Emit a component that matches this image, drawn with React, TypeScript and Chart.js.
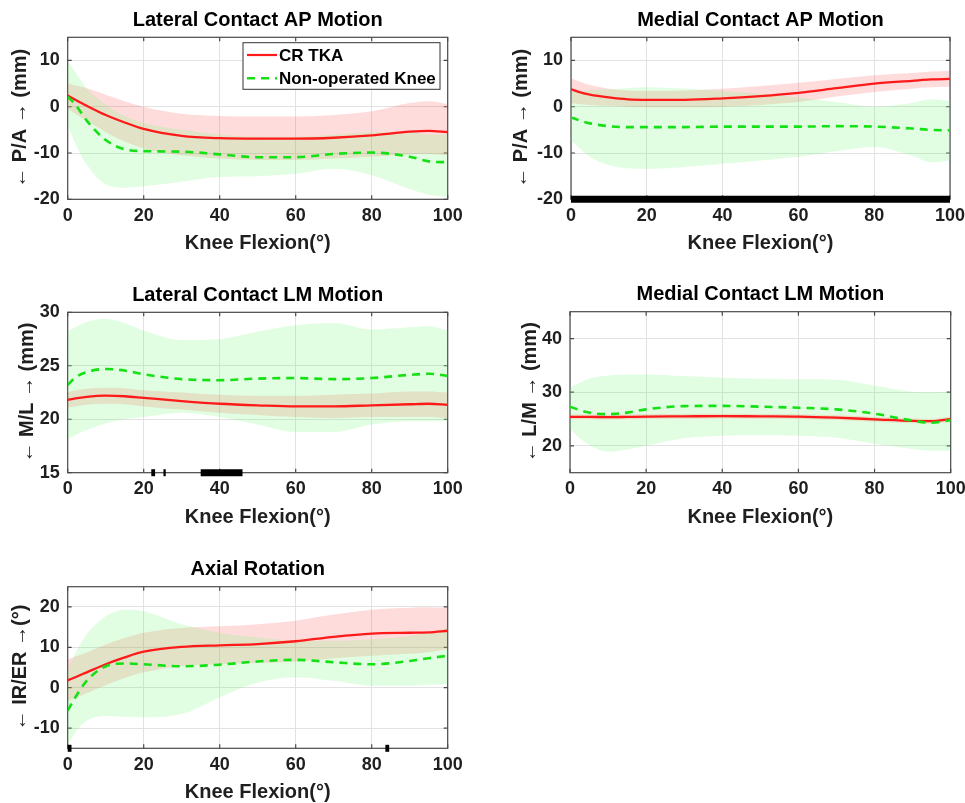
import React, { useEffect, useRef } from 'react';
import { Chart, registerables } from 'chart.js';
Chart.register(...registerables);

const FONT = 'Liberation Sans, Arial, Helvetica, sans-serif';

// ---------- data ----------
const xs = [0, 2, 5, 10, 15, 20, 30, 40, 50, 60, 70, 80, 90, 95, 100];
const xTicks = [0, 20, 40, 60, 80, 100];
const legendLabels = ['CR TKA', 'Non-operated Knee'];

// Lateral Contact AP Motion
const latApCrMean = [2.4, 1.5, 0.2, -1.8, -3.4, -4.8, -6.3, -6.8, -6.9, -6.9, -6.7, -6.2, -5.4, -5.2, -5.5];
const latApCrUpper = [5.0, 4.6, 4.0, 2.6, 1.2, 0.0, -1.5, -2.0, -2.1, -2.1, -1.8, -1.0, 0.8, 1.2, 0.6];
const latApCrLower = [-0.5, -1.5, -3.0, -5.5, -7.5, -9.0, -10.5, -11.2, -11.5, -11.5, -11.2, -10.8, -10.3, -10.2, -10.5];
const latApNoMean = [2.2, 0.5, -3.0, -7.2, -9.2, -9.6, -9.7, -10.3, -10.9, -10.9, -10.2, -9.9, -10.8, -11.8, -12.0];
const latApNoUpper = [10.0, 7.5, 4.0, 0.5, -2.0, -3.5, -5.0, -6.0, -6.5, -6.5, -6.0, -5.5, -5.5, -6.0, -6.0];
const latApNoLower = [-4.0, -8.0, -12.5, -16.8, -17.5, -17.2, -16.2, -15.2, -15.0, -14.5, -13.4, -14.8, -17.8, -19.0, -19.5];
const latApSig: number[][] = [];
const latApYTicks = [-20, -10, 0, 10];

// Medial Contact AP Motion
const medApCrMean = [3.8, 3.2, 2.6, 2.0, 1.6, 1.5, 1.5, 1.8, 2.3, 3.0, 4.0, 5.0, 5.6, 5.9, 6.0];
const medApCrUpper = [6.2, 5.5, 4.7, 3.9, 3.5, 3.4, 3.5, 3.9, 4.5, 5.2, 6.0, 6.8, 7.3, 7.6, 7.8];
const medApCrLower = [0.8, 0.6, 0.4, 0.2, 0.0, -0.1, -0.1, 0.0, 0.4, 1.0, 2.2, 3.2, 3.9, 4.2, 4.3];
const medApNoMean = [-2.3, -2.9, -3.6, -4.2, -4.4, -4.4, -4.4, -4.3, -4.3, -4.3, -4.2, -4.3, -4.7, -5.0, -5.1];
const medApNoUpper = [3.2, 3.4, 3.6, 3.8, 4.0, 4.2, 3.9, 3.4, 2.8, 2.0, 1.0, 0.0, 0.8, 1.6, 1.2];
const medApNoLower = [-7.3, -8.8, -10.8, -12.6, -13.3, -13.4, -13.0, -12.3, -11.6, -10.8, -9.6, -8.7, -10.6, -12.0, -11.6];
const medApSig = [[0, 100]];
const medApYTicks = [-20, -10, 0, 10];

// Lateral Contact LM Motion
const latLmCrMean = [21.8, 21.95, 22.1, 22.2, 22.15, 22.0, 21.7, 21.45, 21.3, 21.2, 21.2, 21.3, 21.4, 21.45, 21.35];
const latLmCrUpper = [22.5, 22.7, 22.85, 22.95, 22.9, 22.7, 22.5, 22.3, 22.2, 22.2, 22.3, 22.4, 22.6, 22.6, 22.5];
const latLmCrLower = [21.1, 21.2, 21.35, 21.45, 21.4, 21.2, 20.9, 20.6, 20.4, 20.2, 20.1, 20.2, 20.2, 20.2, 20.1];
const latLmNoMean = [23.2, 23.9, 24.4, 24.7, 24.55, 24.2, 23.75, 23.65, 23.8, 23.85, 23.75, 23.85, 24.15, 24.25, 24.05];
const latLmNoUpper = [28.2, 28.6, 29.1, 29.4, 29.0, 28.3, 27.4, 27.5, 28.2, 28.8, 29.0, 28.4, 28.6, 28.7, 28.3];
const latLmNoLower = [18.1, 18.5, 19.0, 19.6, 20.0, 20.2, 20.6, 20.2, 19.5, 18.8, 18.8, 19.5, 19.8, 19.8, 19.8];
const latLmSig = [[22, 23], [25.2, 25.8], [35, 46]];
const latLmYTicks = [15, 20, 25, 30];

// Medial Contact LM Motion
const medLmCrMean = [25.4, 25.4, 25.4, 25.35, 25.4, 25.45, 25.5, 25.55, 25.5, 25.45, 25.25, 24.95, 24.65, 24.6, 25.0];
const medLmCrUpper = [25.85, 25.85, 25.85, 25.8, 25.85, 25.9, 25.95, 26.0, 25.95, 25.9, 25.7, 25.4, 25.1, 25.05, 25.45];
const medLmCrLower = [24.95, 24.95, 24.95, 24.9, 24.95, 25.0, 25.05, 25.1, 25.05, 25.0, 24.8, 24.5, 24.2, 24.15, 24.55];
const medLmNoMean = [27.3, 26.8, 26.2, 25.9, 26.2, 26.8, 27.4, 27.45, 27.3, 27.1, 26.8, 26.0, 24.7, 24.3, 24.8];
const medLmNoUpper = [30.8, 31.6, 32.5, 33.1, 33.3, 33.3, 33.0, 32.7, 32.5, 32.4, 32.3, 31.2, 30.1, 30.0, 30.1];
const medLmNoLower = [23.2, 21.8, 20.2, 18.9, 19.3, 20.0, 21.4, 21.9, 22.0, 21.9, 21.5, 20.4, 19.4, 19.1, 19.1];
const medLmSig: number[][] = [];
const medLmYTicks = [20, 30, 40];

// Axial Rotation
const axCrMean = [1.8, 2.6, 3.8, 5.8, 7.5, 8.9, 10.1, 10.5, 10.8, 11.5, 12.6, 13.4, 13.6, 13.7, 14.1];
const axCrUpper = [7.0, 7.7, 8.7, 10.7, 12.3, 13.6, 14.8, 15.2, 15.7, 16.6, 18.1, 19.3, 19.8, 19.9, 19.8];
const axCrLower = [-3.2, -2.6, -1.4, 0.6, 2.4, 3.8, 5.4, 5.8, 6.1, 6.5, 7.3, 7.9, 8.4, 8.8, 9.5];
const axNoMean = [-5.7, -2.4, 1.7, 5.3, 6.0, 5.8, 5.3, 5.7, 6.5, 6.9, 6.3, 5.8, 6.6, 7.3, 7.9];
const axNoUpper = [4.0, 8.5, 13.2, 17.7, 19.3, 18.9, 15.7, 13.6, 12.4, 11.6, 11.6, 12.0, 12.8, 13.8, 14.8];
const axNoLower = [-14.0, -11.0, -8.2, -7.0, -7.2, -7.3, -6.5, -2.4, 1.3, 2.5, 1.7, 0.5, 0.5, 0.7, 0.9];
const axSig = [[0, 1], [83.6, 84.6]];
const axYTicks = [-10, 0, 10, 20];

// ---------- specs (layout) ----------
type Spec = {
  title: string; yLabel: string; yMin: number; yMax: number; yTicks: number[];
  cr: number[][]; no: number[][]; sig: number[][];
  area: number[]; yTitleX: number; legend: boolean;
};

const specs: Spec[] = [
  { title: 'Lateral Contact AP Motion', yLabel: '← P/A → (mm)', yMin: -20, yMax: 15, yTicks: latApYTicks,
    cr: [latApCrMean, latApCrUpper, latApCrLower], no: [latApNoMean, latApNoUpper, latApNoLower], sig: latApSig,
    area: [67.7, 37.3, 447.7, 199.3], yTitleX: 20, legend: true },
  { title: 'Medial Contact AP Motion', yLabel: '← P/A → (mm)', yMin: -20, yMax: 15, yTicks: medApYTicks,
    cr: [medApCrMean, medApCrUpper, medApCrLower], no: [medApNoMean, medApNoUpper, medApNoLower], sig: medApSig,
    area: [571, 37.3, 950, 199.3], yTitleX: 521, legend: false },
  { title: 'Lateral Contact LM Motion', yLabel: '← M/L → (mm)', yMin: 15, yMax: 30, yTicks: latLmYTicks,
    cr: [latLmCrMean, latLmCrUpper, latLmCrLower], no: [latLmNoMean, latLmNoUpper, latLmNoLower], sig: latLmSig,
    area: [67.7, 312.3, 447.7, 472.7], yTitleX: 27, legend: false },
  { title: 'Medial Contact LM Motion', yLabel: '← L/M → (mm)', yMin: 15, yMax: 45, yTicks: medLmYTicks,
    cr: [medLmCrMean, medLmCrUpper, medLmCrLower], no: [medLmNoMean, medLmNoUpper, medLmNoLower], sig: medLmSig,
    area: [570, 311.7, 950.7, 472.7], yTitleX: 530, legend: false },
  { title: 'Axial Rotation', yLabel: '← IR/ER →(°)', yMin: -15, yMax: 25, yTicks: axYTicks,
    cr: [axCrMean, axCrUpper, axCrLower], no: [axNoMean, axNoUpper, axNoLower], sig: axSig,
    area: [67.7, 586.7, 447.7, 748.3], yTitleX: 20, legend: false },
];

const RED = '#ff1a1a';
const GREEN = '#14e014';
const RED_FILL = 'rgba(250,60,60,0.18)';
const GREEN_FILL = 'rgba(110,250,110,0.2)';
const TEXT = '#1f1f1f';

const pts = (ys: number[]) => xs.map((x, i) => ({ x, y: ys[i] }));

function makePlugins(spec: Spec) {
  return [{
    id: 'decor',
    beforeDatasetsDraw(chart: any) {
      const { ctx, chartArea: a, scales } = chart;
      ctx.save();
      ctx.strokeStyle = '#4a4a4a';
      ctx.lineWidth = 1.2;
      ctx.strokeRect(a.left, a.top, a.right - a.left, a.bottom - a.top);
      ctx.beginPath();
      for (const v of xTicks) {
        const px = scales.x.getPixelForValue(v);
        ctx.moveTo(px, a.bottom); ctx.lineTo(px, a.bottom - 4);
        ctx.moveTo(px, a.top); ctx.lineTo(px, a.top + 4);
      }
      for (const v of spec.yTicks) {
        const py = scales.y.getPixelForValue(v);
        ctx.moveTo(a.left, py); ctx.lineTo(a.left + 4, py);
        ctx.moveTo(a.right, py); ctx.lineTo(a.right - 4, py);
      }
      ctx.stroke();
      ctx.restore();
    },
    afterDraw(chart: any) {
      const { ctx, chartArea: a } = chart;
      ctx.save();
      ctx.fillStyle = '#000';
      ctx.font = `bold 20px ${FONT}`;
      ctx.textAlign = 'center';
      ctx.textBaseline = 'middle';
      ctx.fillText(spec.title, (a.left + a.right) / 2, a.top - 17);
      if (spec.legend) {
        const bw = 197, bh = 46.6;
        const bx = a.right - 7.7 - bw, by = a.top + 5.4;
        ctx.fillStyle = '#fff';
        ctx.fillRect(bx, by, bw, bh);
        ctx.strokeStyle = '#333';
        ctx.lineWidth = 1;
        ctx.strokeRect(bx, by, bw, bh);
        ctx.font = `bold 17px ${FONT}`;
        ctx.textAlign = 'left';
        ctx.fillStyle = '#000';
        const rows = [{ y: by + 12.3, color: RED, dash: [] as number[] }, { y: by + 35.6, color: GREEN, dash: [8, 6] }];
        rows.forEach((r, i) => {
          ctx.beginPath();
          ctx.strokeStyle = r.color;
          ctx.lineWidth = i === 0 ? 2.2 : 2.5;
          ctx.setLineDash(r.dash);
          ctx.moveTo(bx + 4, r.y);
          ctx.lineTo(bx + 34, r.y);
          ctx.stroke();
          ctx.setLineDash([]);
          ctx.fillText(legendLabels[i], bx + 36, r.y + 1);
        });
      }
      ctx.restore();
    },
  }];
}

function Plot({ spec }: { spec: Spec }) {
  const ref = useRef<HTMLCanvasElement>(null);
  const [l, t, r, b] = spec.area;
  const canvasLeft = Math.round(spec.yTitleX - 12);
  const canvasTop = Math.round(t - 38);
  const width = Math.ceil(r + 22 - canvasLeft);
  const height = Math.ceil(b + 57 - canvasTop);
  const yAxisW = l - canvasLeft;
  const padTop = t - canvasTop;
  const padRight = canvasLeft + width - r;
  const xAxisH = canvasTop + height - b;

  useEffect(() => {
    if (!ref.current) return;
    const lineBase = { pointRadius: 0, cubicInterpolationMode: 'monotone' as const };
    const datasets: any[] = [
      { ...lineBase, label: 'crUpper', data: pts(spec.cr[1]), borderWidth: 0, borderColor: 'rgba(0,0,0,0)', fill: '+1', backgroundColor: RED_FILL, order: 10 },
      { ...lineBase, label: 'crLower', data: pts(spec.cr[2]), borderWidth: 0, borderColor: 'rgba(0,0,0,0)', fill: false, order: 10 },
      { ...lineBase, label: 'noUpper', data: pts(spec.no[1]), borderWidth: 0, borderColor: 'rgba(0,0,0,0)', fill: '+1', backgroundColor: GREEN_FILL, order: 9 },
      { ...lineBase, label: 'noLower', data: pts(spec.no[2]), borderWidth: 0, borderColor: 'rgba(0,0,0,0)', fill: false, order: 9 },
      { ...lineBase, label: legendLabels[0], data: pts(spec.cr[0]), borderColor: RED, borderWidth: 2.3, fill: false, order: 2 },
      { ...lineBase, label: legendLabels[1], data: pts(spec.no[0]), borderColor: GREEN, borderWidth: 2.6, borderDash: [8, 6], fill: false, order: 1 },
      ...spec.sig.map(([a, c]) => ({
        label: 'sig', data: [{ x: a, y: spec.yMin }, { x: c, y: spec.yMin }],
        borderColor: '#000', borderWidth: 7, pointRadius: 0, fill: false, clip: false, order: 0, borderCapStyle: 'butt',
      })),
    ];
    const tickFont = { family: FONT, size: 18, weight: 'bold' as const };
    const labelFont = { family: FONT, size: 20, weight: 'bold' as const };
    const chart = new Chart(ref.current, {
      type: 'line',
      data: { datasets },
      plugins: makePlugins(spec) as any,
      options: {
        animation: false,
        responsive: false,
        maintainAspectRatio: false,
        devicePixelRatio: 1,
        layout: { padding: { top: padTop, right: padRight, left: 0, bottom: 0 } },
        plugins: { legend: { display: false }, tooltip: { enabled: false }, title: { display: false } },
        scales: {
          x: {
            type: 'linear', min: 0, max: 100,
            afterBuildTicks: (s: any) => { s.ticks = xTicks.map((v) => ({ value: v })); },
            afterFit: (s: any) => { s.height = xAxisH; },
            grid: { color: '#e2e2e2', lineWidth: 1, drawTicks: false },
            border: { display: false },
            ticks: { padding: 6, font: tickFont, color: TEXT, maxRotation: 0, autoSkip: false },
            title: { display: true, text: 'Knee Flexion(°)', font: labelFont, color: TEXT, padding: { top: 0, bottom: xAxisH - 12 - 44.5 } },
          },
          y: {
            type: 'linear', min: spec.yMin, max: spec.yMax,
            afterBuildTicks: (s: any) => { s.ticks = spec.yTicks.map((v) => ({ value: v })); },
            afterFit: (s: any) => { s.width = yAxisW; },
            grid: { color: '#e2e2e2', lineWidth: 1, drawTicks: false },
            border: { display: false },
            ticks: { padding: 8, font: tickFont, color: TEXT, autoSkip: false },
            title: { display: true, text: spec.yLabel, font: labelFont, color: TEXT, padding: { top: 0, bottom: 0 } },
          },
        },
      } as any,
    });
    return () => chart.destroy();
  }, [spec]);

  return (
    <canvas
      ref={ref}
      width={width}
      height={height}
      style={{ position: 'absolute', left: canvasLeft, top: canvasTop, width, height }}
    />
  );
}

export default function App() {
  return (
    <div style={{ position: 'fixed', left: 0, top: 0, width: 965, height: 803, background: '#fff', overflow: 'hidden' }}>
      {specs.map((s, i) => <Plot key={i} spec={s} />)}
    </div>
  );
}
